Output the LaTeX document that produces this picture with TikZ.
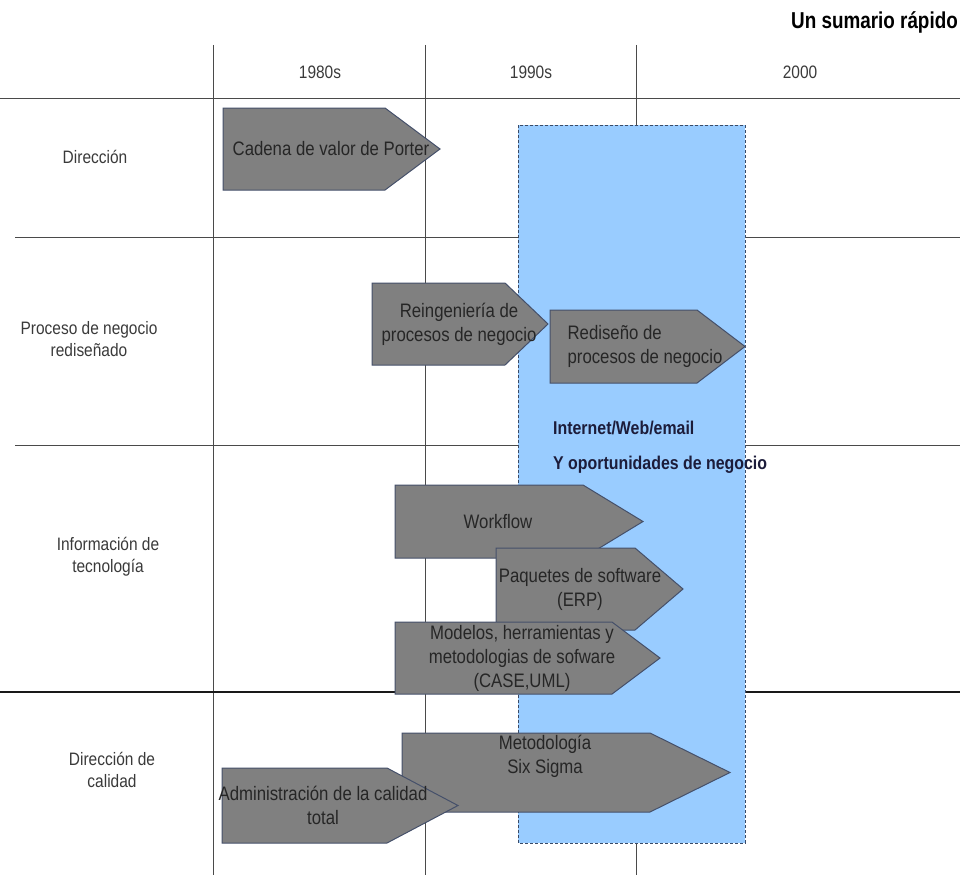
\documentclass[tikz,border=0pt]{standalone}
\usepackage{fontspec}
\setmainfont{Liberation Sans}[FakeStretch=0.86]
\newfontfamily\titlefont{Liberation Sans}[FakeStretch=0.82]

\definecolor{chevfill}{HTML}{808080}
\definecolor{chevedge}{HTML}{45506A}
\definecolor{eraback}{HTML}{99CCFF}
\definecolor{eraedge}{HTML}{3A4A66}
\definecolor{gridline}{HTML}{4A4A4A}
\definecolor{labeltext}{HTML}{3A3A3A}
\definecolor{notetext}{HTML}{1C1C3A}

\tikzset{
  gridrule/.style={draw=gridline, line width=1pt},
  boldrule/.style={draw=black!90, line width=1.4pt},
  chev/.style={fill=chevfill, draw=chevedge, line width=1pt, line join=miter},
  chevtext/.style={font=\fontsize{19.5}{24}\selectfont, text=black!85, align=center, inner sep=0pt},
  rowlabel/.style={font=\fontsize{18}{22}\selectfont, text=labeltext, align=center, inner sep=0pt},
  colhead/.style={font=\fontsize{18}{22}\selectfont, text=labeltext, inner sep=0pt},
  eraband/.style={fill=eraback, draw=eraedge, dash pattern=on 3pt off 2pt, line width=0.9pt},
  notelabel/.style={font=\fontsize{18.5}{22}\selectfont\bfseries, text=notetext, anchor=west, inner sep=0pt},
  titlelabel/.style={font=\titlefont\fontsize{23}{26}\selectfont\bfseries, text=black, anchor=east, inner sep=0pt},
}

% pentagon arrow: name, left, top, body end, tip, bottom, text x, text
\newcommand{\chevron}[8]{%
  \filldraw[chev] (#2,#3) -- (#4,#3) -- (#5,{(#3+#6)/2}) -- (#4,#6) -- (#2,#6) -- cycle;
  \node[chevtext] (#1) at (#7,{(#3+#6)/2}) {#8};}

\begin{document}
\begin{tikzpicture}[x=1pt,y=-1pt]
\useasboundingbox (0,0) rectangle (960,875);

% title
\node[titlelabel] (title) at (958,22) {Un sumario rápido};

% grid
\draw[gridrule] (213,45) -- (213,875);
\draw[gridrule] (425,45) -- (425,875);
\draw[gridrule] (636,45) -- (636,875);
\draw[gridrule] (0,98) -- (960,98);
\draw[gridrule] (15,237) -- (960,237);
\draw[gridrule] (15,445) -- (960,445);
\draw[boldrule] (0,692) -- (960,692);

% column headings
\node[colhead] (c80) at (320,72) {1980s};
\node[colhead] (c90) at (531,72) {1990s};
\node[colhead] (c00) at (800,72) {2000};

% row headings
\node[rowlabel] (r1) at (95,157) {Dirección};
\node[rowlabel] (r2) at (89,339) {Proceso de negocio\\rediseñado};
\node[rowlabel] (r3) at (108,557) {Información de\\tecnología};
\node[rowlabel] (r4) at (112,770) {Dirección de\\calidad};

% internet era band
\path[eraband] (518,125) rectangle (745,843);
\node[notelabel] (n1) at (553,428) {Internet/Web/email};
\node[notelabel] (n2) at (553,465) {Y oportunidades de negocio};

% arrows
\chevron{porter}{223}{108}{385}{440}{190}{331}{Cadena de valor de Porter}
\chevron{reing}{372}{283}{505}{548}{365}{459}{Reingeniería de\\procesos de negocio}
\chevron{redis}{550}{310}{697}{745}{383}{645}{\begin{tabular}{@{}l@{}}Rediseño de\\procesos de negocio\end{tabular}}
\chevron{workflow}{395}{485}{583}{643}{558}{498}{Workflow}
\chevron{paquetes}{496}{548}{635}{683}{630}{580}{Paquetes de software\\(ERP)}
\chevron{modelos}{395}{622}{612}{660}{694}{522}{Modelos, herramientas y\\metodologias de sofware\\(CASE,UML)}
\chevron{sigma}{402}{733}{650}{730}{812}{545}{Metodología\\Six Sigma\\[12pt]}
\chevron{tqm}{222}{768}{387}{458}{843}{323}{Administración de la calidad\\total}
\end{tikzpicture}
\end{document}
